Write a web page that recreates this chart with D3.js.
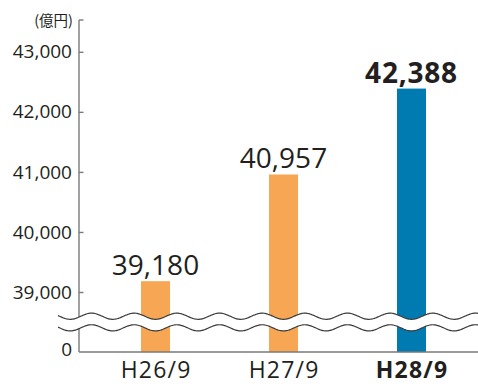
<!DOCTYPE html>
<html>
<head>
<meta charset="utf-8">
<script src="https://cdn.jsdelivr.net/npm/d3@7"></script>
<style>
  html, body { margin: 0; padding: 0; background: #fff; }
  svg { display: block; }
  text { font-family: "Open Sans", "Noto Sans", sans-serif; fill: #231f20; }
</style>
</head>
<body>
<svg id="chart" width="478" height="384"></svg>
<script>
// Balance at end of September (億円)
const categories = ["H26/9", "H27/9", "H28/9"];
const values = [39180, 40957, 42388];
const barColors = ["#f7a654", "#f7a654", "#007bb1"];
const highlight = [false, false, true];
const tickValues = [39000, 40000, 41000, 42000, 43000];
const unitLabel = "(億円)";

(function () {
const W = 478, H = 384;
const svg = d3.select("#chart");

const axisX = 79;
const y = d3.scaleLinear().domain([39000, 43530]).range([292, 20]);
const stepPx = y(39000) - y(40000);
const zeroY = y(39000) + stepPx;          // baseline sits one step below 39,000 (broken axis)

const x = d3.scaleBand().domain(categories).range([91.5, 475.5]).padding(0);
const barW = 29;

// bars
svg.append("g").selectAll("rect")
  .data(values)
  .join("rect")
  .attr("x", (d, i) => x(categories[i]) + x.bandwidth() / 2 - barW / 2)
  .attr("y", d => y(d))
  .attr("width", barW)
  .attr("height", d => zeroY - y(d))
  .attr("fill", (d, i) => barColors[i]);

// y axis line + inward ticks
svg.append("line")
  .attr("x1", axisX).attr("x2", axisX)
  .attr("y1", y(43530)).attr("y2", zeroY)
  .attr("stroke", "#7a7a7a").attr("stroke-width", 1.4);
svg.append("line")
  .attr("x1", axisX).attr("x2", axisX + 4.5)
  .attr("y1", y(43530)).attr("y2", y(43530))
  .attr("stroke", "#7a7a7a").attr("stroke-width", 1.4);

const yAxis = d3.axisLeft(y)
  .tickValues(tickValues)
  .tickSize(-4.5)
  .tickPadding(7)
  .tickFormat(d3.format(","));
const gy = svg.append("g").attr("transform", `translate(${axisX},0)`).call(yAxis);
gy.select(".domain").remove();
gy.selectAll(".tick line").attr("stroke", "#7a7a7a").attr("stroke-width", 1.4);
gy.selectAll(".tick text")
  .attr("font-size", 19).attr("fill", "#231f20")
  .style("font-family", "'Open Sans', sans-serif");

// zero label
svg.append("text")
  .attr("x", axisX - 7).attr("y", zeroY + 4)
  .attr("text-anchor", "end")
  .attr("font-size", 19)
  .text("0");

// unit label
svg.append("text")
  .attr("x", 73).attr("y", 25.5)
  .attr("text-anchor", "end")
  .attr("font-size", 14.5)
  .style("font-family", "'Noto Sans CJK JP', sans-serif")
  .attr("fill", "#444")
  .text(unitLabel);

// x axis baseline
svg.append("line")
  .attr("x1", axisX).attr("x2", W)
  .attr("y1", zeroY).attr("y2", zeroY)
  .attr("stroke", "#7a7a7a").attr("stroke-width", 1.4);

// axis break: white band bounded by two wavy lines
const breakMid = (y(39000) + zeroY) / 2;
const gap = 5.8, amp = 3.1, period = x.step() / 3;
const phase0 = x(categories[0]) + x.bandwidth() / 2;
const xs = d3.range(58, W + 1, 1);
const wave = off => xs.map(px => [px, breakMid + off + amp * Math.cos(2 * Math.PI * (px - phase0) / period)]);
const upperWave = wave(-gap), lowerWave = wave(gap);
svg.append("path")
  .attr("d", d3.line()(upperWave.concat(lowerWave.slice().reverse())) + "Z")
  .attr("fill", "#fff");
[upperWave, lowerWave].forEach(pts => {
  svg.append("path")
    .attr("d", d3.line().curve(d3.curveBasis)(pts))
    .attr("fill", "none")
    .attr("stroke", "#3c3c3c")
    .attr("stroke-width", 1.2);
});

// value labels
svg.append("g").selectAll("text")
  .data(values)
  .join("text")
  .attr("x", (d, i) => x(categories[i]) + x.bandwidth() / 2)
  .attr("y", d => y(d) - 6)
  .attr("text-anchor", "middle")
  .attr("font-size", 28)
  .attr("font-weight", (d, i) => highlight[i] ? 700 : 400)
  .attr("letter-spacing", (d, i) => highlight[i] ? 0.8 : 0)
  .text(d => d3.format(",")(d));

// category labels
const catSpacing = 1.2;
svg.append("g").selectAll("text")
  .data(categories)
  .join("text")
  .attr("x", d => x(d) + x.bandwidth() / 2 + catSpacing / 2)
  .attr("y", 377.5)
  .attr("text-anchor", "middle")
  .attr("font-size", 23)
  .attr("letter-spacing", catSpacing)
  .attr("font-weight", (d, i) => highlight[i] ? 700 : 400)
  .text(d => d);
})();
</script>
</body>
</html>
